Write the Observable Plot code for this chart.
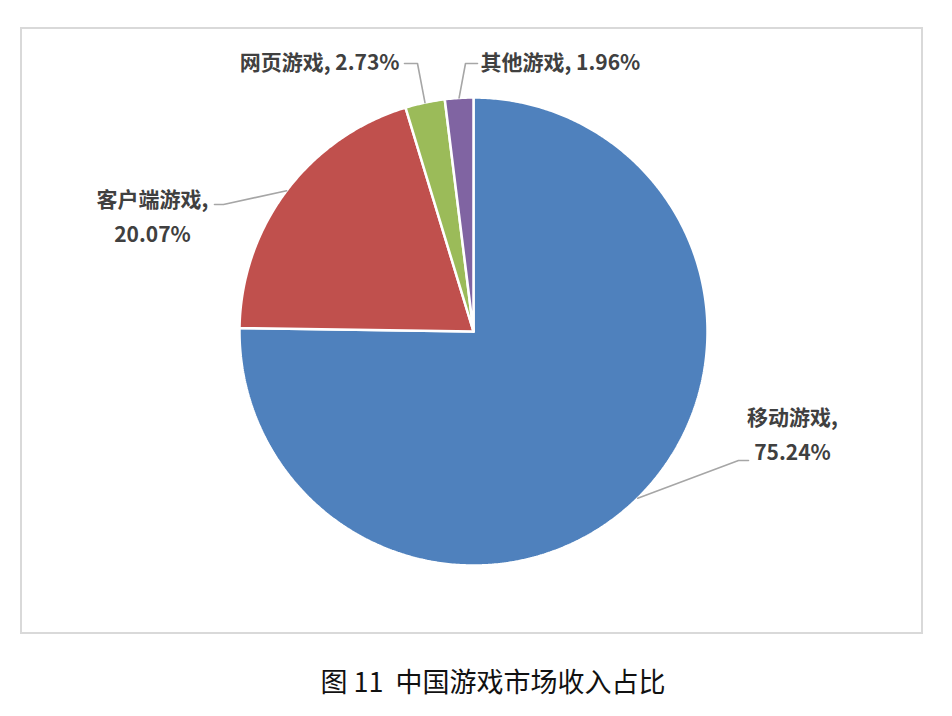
<!DOCTYPE html>
<html>
<head>
<meta charset="utf-8">
<script src="https://cdn.jsdelivr.net/npm/d3@7"></script>
<script src="https://cdn.jsdelivr.net/npm/@observablehq/plot@0.6"></script>
<style>
  html, body { margin: 0; padding: 0; background: #fff; }
  #wrap { position: relative; width: 952px; height: 716px; overflow: hidden; }
  #frame { position: absolute; left: 20px; top: 27px; width: 903px; height: 607px; box-sizing: border-box; border: 2px solid #d9d9d9; }
  #chart { position: absolute; left: 0; top: 0; }
  #caption { position: absolute; left: 0; top: 661px; width: 952px; padding-left: 34px; box-sizing: border-box; text-align: center; font-family: "Noto Sans CJK SC", sans-serif; font-size: 27px; line-height: 40px; color: #111; white-space: pre; }
</style>
</head>
<body>
<div id="wrap">
  <div id="frame"></div>
  <div id="chart"></div>
  <div id="caption">图 11  中国游戏市场收入占比</div>
</div>
<script>
// Data
const categories = ["移动游戏", "客户端游戏", "网页游戏", "其他游戏"];
const shares = [75.24, 20.07, 2.73, 1.96];
const colors = ["#4F81BD", "#C0504D", "#9BBB59", "#8064A2"];

// Label layout (units relative to pie centre, radius = 234)
const labelElbowX = [265, -250, -56, -8];
const labelElbowY = [-129, 127, 268, 268];
const labelEndX = [275, -259, -69, 4];
const labelTextX = [319, -321, -74, 7];
const labelTextY = [-99.5, 118.5, 273, 273];
const labelAnchor = ["middle", "middle", "end", "start"];
const labelTwoLine = [true, true, false, false];

const R = 234;
const pie = d3.pie().sort(null).startAngle(0).endAngle(2 * Math.PI)(shares);

// slice outlines (geometry sampled along each arc)
const slicePts = [];
pie.forEach((p, i) => {
  const name = categories[i];
  slicePts.push({name, x: 0, y: 0});
  const n = Math.max(2, Math.ceil((p.endAngle - p.startAngle) / (Math.PI / 360)));
  for (let k = 0; k <= n; k++) {
    const a = p.startAngle + (p.endAngle - p.startAngle) * k / n;
    slicePts.push({name, x: R * Math.sin(a), y: R * Math.cos(a)});
  }
  slicePts.push({name, x: 0, y: 0});
});

// leader lines
const leaderPts = [];
pie.forEach((p, i) => {
  const name = categories[i];
  const mid = (p.startAngle + p.endAngle) / 2;
  leaderPts.push({name, x: R * Math.sin(mid), y: R * Math.cos(mid)});
  leaderPts.push({name, x: labelElbowX[i], y: labelElbowY[i]});
  leaderPts.push({name, x: labelEndX[i], y: labelElbowY[i]});
});

const labels = categories.map((c, i) => ({
  name: c,
  text: labelTwoLine[i] ? `${c},\n${shares[i].toFixed(2)}%` : `${c}, ${shares[i].toFixed(2)}%`,
  x: labelTextX[i],
  y: labelTextY[i],
  anchor: labelAnchor[i]
}));

const font = '"Noto Sans CJK SC", "Noto Sans", sans-serif';

const chart = Plot.plot({
  width: 952,
  height: 645,
  marginLeft: 239,
  marginRight: 245,
  marginTop: 97,
  marginBottom: 80,
  x: {domain: [-R, R], axis: null},
  y: {domain: [-R, R], axis: null},
  color: {domain: categories, range: colors},
  style: {background: "transparent", overflow: "visible", fontFamily: font},
  marks: [
    Plot.line(slicePts, {x: "x", y: "y", z: "name", fill: "name", stroke: "white", strokeWidth: 2.5, strokeLinejoin: "miter", curve: "linear"}),
    Plot.line(leaderPts, {x: "x", y: "y", z: "name", stroke: "#a6a6a6", strokeWidth: 1.6, curve: "linear"}),
    ...["start", "middle", "end"].map(a =>
      Plot.text(labels.filter(d => d.anchor === a), {
        x: "x", y: "y", text: "text", textAnchor: a, lineAnchor: "middle",
        lineHeight: 1.7, fontSize: 21, fontWeight: "bold", fill: "#404040", fontFamily: font
      })
    )
  ]
});
document.getElementById("chart").appendChild(chart);
</script>
</body>
</html>
